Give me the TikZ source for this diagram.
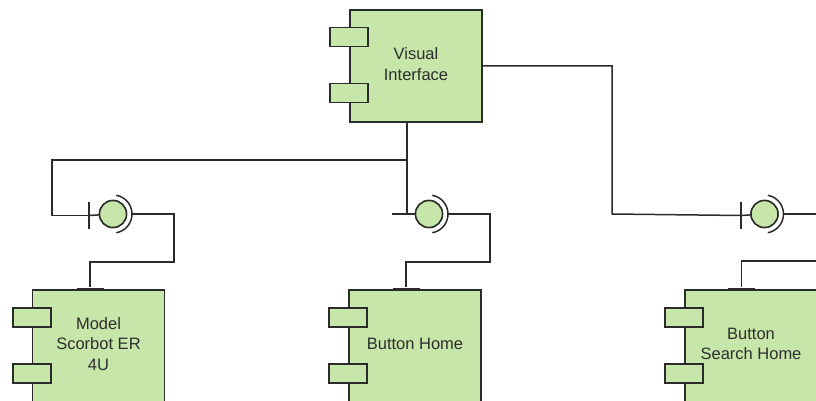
\documentclass[tikz,border=0pt]{standalone}
\usepackage{fontspec}
\setmainfont{Liberation Sans}
\definecolor{cfill}{HTML}{C7E6A9}
\definecolor{cline}{HTML}{2B2B2B}
\definecolor{ctext}{HTML}{2E2E2E}
\begin{document}
\begin{tikzpicture}[x=1pt,y=-1pt,
  comp/.style={draw=cline,fill=cfill,line width=1.8pt,minimum width=132pt,minimum height=112pt,inner sep=0pt},
  ctxt/.style={align=center,text=ctext,font=\fontsize{16.5}{20.5}\selectfont,yshift=2pt},
  port/.style={draw=cline,fill=cfill,line width=1.8pt,minimum width=38pt,minimum height=19pt,inner sep=0pt},
  lolli/.style={circle,draw=cline,fill=cfill,line width=1.5pt,minimum size=27pt,inner sep=0pt},
  wire/.style={draw=cline,line width=1.5pt},
  vbar/.style={fill=cline,minimum width=2pt,minimum height=27pt,inner sep=0pt},
  hbar/.style={fill=cline,minimum width=27pt,minimum height=3pt,inner sep=0pt},
  socket/.style={draw=cline,line width=1.5pt}]
\useasboundingbox (0,0) rectangle (816,401);
\clip (0,0) rectangle (816,401);

% interface symbols
\node[lolli] (c1) at (113,214) {};
\node[lolli] (c2) at (429,214) {};
\node[lolli] (c3) at (764.5,214) {};
\node[vbar] (b1) at (89,215.5) {};
\node[vbar] (b3) at (741,215.5) {};
\node[hbar] (t1) at (90,289) {};
\node[hbar] (t2) at (406,289) {};
\node[hbar] (t3) at (741.5,289) {};

\foreach \c in {c1,c2,c3}{
  \draw[socket] ([shift={(80:19pt)}]\c.center) arc (80:-80:19pt);
}

% components
\node[comp,label={[ctxt]center:{Visual\\Interface}}] (vi) at (416,66) {};
\node[comp,label={[ctxt]center:{Model\\Scorbot ER\\4U}}] (mdl) at (98.5,346) {};
\node[comp,label={[ctxt]center:{Button Home}}] (bh) at (415,346) {};
\node[comp,label={[ctxt]center:{Button\\Search Home}}] (bsh) at (751,346) {};

\foreach \b in {vi,mdl,bh,bsh}{
  \node[port] (\b p1) at ([yshift=-28pt]\b.north west) {};
  \node[port] (\b p2) at ([yshift=-84pt]\b.north west) {};
}

% connectors
\coordinate (vibot) at (407,122);
\coordinate (j1) at (407,160);
\coordinate (m0) at (392,214);
\coordinate (r1) at (816,214);
\coordinate (r2) at (816,261);

\draw[wire] (vibot) -- (407,214);
\draw[wire] (m0) -- (c2.west);
\draw[wire] (j1) -- (52,160) |- (b1);
\draw[wire] (b1) -- (c1);
\draw[wire] ([xshift=19pt]c1.center) -- (174,214) -- (174,262) -| (t1);
\draw[wire] ([xshift=19pt]c2.center) -- (490,214) -- (490,262) -| (t2);
\draw[wire] (vi.east) -| (612,214) -- (b3);
\draw[wire] (b3) -- (c3);
\draw[wire] ([xshift=19pt]c3.center) -- (r1);
\draw[wire] (r2) -| (t3);

% redraw interface circles on top of wires
\node[lolli] at (c1) {};
\node[lolli] at (c2) {};
\node[lolli] at (c3) {};
\node[hbar] at (t1) {};
\node[hbar] at (t2) {};
\node[hbar] at (t3) {};
\end{tikzpicture}
\end{document}
